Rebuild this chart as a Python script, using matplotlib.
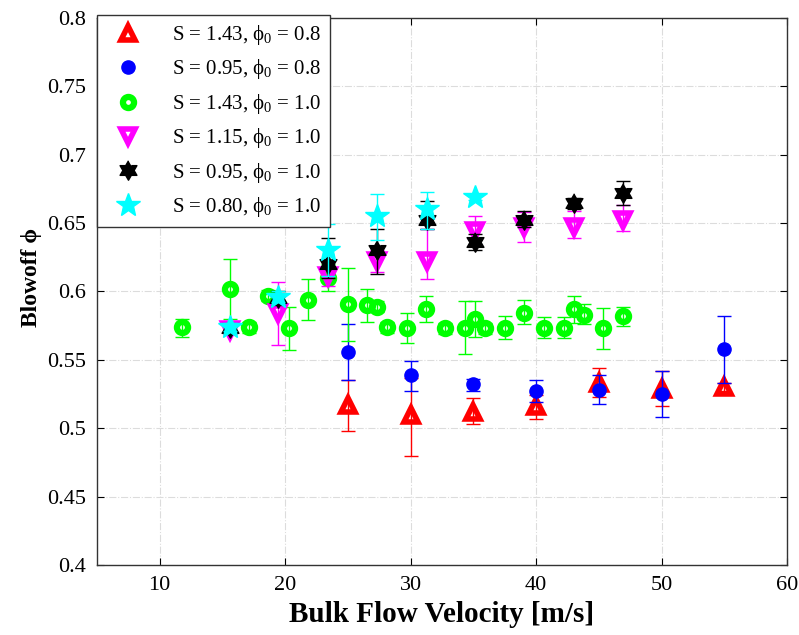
import numpy as np
import matplotlib
matplotlib.use("Agg")
import matplotlib.pyplot as plt

plt.rcParams['font.family'] = ['Liberation Serif', 'DejaVu Serif']
plt.rcParams['mathtext.fontset'] = 'custom'
plt.rcParams['mathtext.rm'] = 'Liberation Serif'
plt.rcParams['mathtext.it'] = 'Liberation Serif:italic'

# S = 1.43, phi0 = 0.8
red_x = [25, 30, 35, 40, 45, 50, 55]
red_y = [0.517, 0.510, 0.512, 0.516, 0.533, 0.529, 0.530]
red_lo = [0.498, 0.480, 0.503, 0.507, 0.523, 0.516, 0.527]
red_hi = [0.535, 0.537, 0.522, 0.524, 0.544, 0.542, 0.533]

# S = 0.95, phi0 = 0.8
blue_x = [25, 30, 35, 40, 45, 50, 55]
blue_y = [0.556, 0.539, 0.532, 0.527, 0.528, 0.525, 0.558]
blue_lo = [0.535, 0.527, 0.527, 0.519, 0.518, 0.508, 0.533]
blue_hi = [0.576, 0.549, 0.536, 0.535, 0.539, 0.542, 0.582]

# S = 1.43, phi0 = 1.0
green_x = [11.75, 15.6, 17.1, 18.65, 20.3, 21.8, 23.4, 25.0, 26.5, 27.3, 28.1,
           29.7, 31.2, 32.7, 34.3, 35.1, 35.9, 37.5, 39.0, 40.6, 42.2, 43.0,
           43.8, 45.3, 46.9]
green_y = [0.574, 0.602, 0.574, 0.597, 0.573, 0.594, 0.610, 0.591, 0.590, 0.589, 0.574,
           0.573, 0.587, 0.573, 0.573, 0.580, 0.573, 0.573, 0.584, 0.573, 0.573, 0.587,
           0.583, 0.573, 0.582]
green_lo = [0.567, 0.580, 0.570, 0.593, 0.557, 0.579, 0.600, 0.564, 0.578, 0.585, 0.570,
            0.562, 0.578, 0.569, 0.554, 0.567, 0.569, 0.565, 0.576, 0.566, 0.566, 0.577,
            0.576, 0.558, 0.575]
green_hi = [0.580, 0.624, 0.578, 0.601, 0.589, 0.609, 0.620, 0.617, 0.602, 0.593, 0.578,
            0.584, 0.597, 0.577, 0.593, 0.593, 0.577, 0.582, 0.594, 0.581, 0.581, 0.597,
            0.591, 0.588, 0.589]

# S = 1.15, phi0 = 1.0
mag_x = [15.6, 19.45, 23.4, 27.3, 31.3, 35.1, 39.0, 43.0, 46.9]
mag_y = [0.572, 0.584, 0.611, 0.622, 0.622, 0.644, 0.647, 0.647, 0.652]
mag_lo = [0.569, 0.561, 0.604, 0.614, 0.609, 0.634, 0.636, 0.639, 0.644]
mag_hi = [0.575, 0.607, 0.618, 0.630, 0.646, 0.655, 0.658, 0.659, 0.663]

# S = 0.95, phi0 = 1.0
blk_x = [15.6, 19.45, 23.4, 27.3, 31.3, 35.1, 39.0, 43.0, 46.9]
blk_y = [0.573, 0.595, 0.620, 0.630, 0.652, 0.636, 0.652, 0.665, 0.672]
blk_lo = [0.570, 0.590, 0.610, 0.613, 0.646, 0.630, 0.647, 0.660, 0.663]
blk_hi = [0.576, 0.600, 0.639, 0.646, 0.666, 0.642, 0.659, 0.668, 0.681]

# S = 0.80, phi0 = 1.0
cyan_x = [15.6, 19.45, 23.4, 27.3, 31.3, 35.1]
cyan_y = [0.574, 0.596, 0.630, 0.655, 0.660, 0.669]
cyan_lo = [0.571, 0.592, 0.611, 0.638, 0.646, 0.667]
cyan_hi = [0.577, 0.600, 0.649, 0.671, 0.673, 0.671]

labels = [r'S = 1.43, ϕ$_0$ = 0.8', r'S = 0.95, ϕ$_0$ = 0.8',
          r'S = 1.43, ϕ$_0$ = 1.0', r'S = 1.15, ϕ$_0$ = 1.0',
          r'S = 0.95, ϕ$_0$ = 1.0', r'S = 0.80, ϕ$_0$ = 1.0']

# hexagram marker
ang = np.pi / 2 + np.arange(12) * np.pi / 6
rad = np.where(np.arange(12) % 2 == 0, 1.0, 1 / np.sqrt(3))
hexagram = list(zip(rad * np.cos(ang), rad * np.sin(ang)))

series = [
    (red_x, red_y, red_lo, red_hi, '#ff0000', dict(marker='^', mfc='none', ms=10.5, mew=4)),
    (blue_x, blue_y, blue_lo, blue_hi, '#0000ff', dict(marker='o', mfc='#0000ff', ms=9.5, mew=1)),
    (green_x, green_y, green_lo, green_hi, '#00ff00', dict(marker='o', mfc='none', ms=8, mew=4.5)),
    (mag_x, mag_y, mag_lo, mag_hi, '#ff00ff', dict(marker='v', mfc='none', ms=10.5, mew=4)),
    (blk_x, blk_y, blk_lo, blk_hi, '#000000', dict(marker=hexagram, mfc='#000000', ms=14, mew=1)),
    (cyan_x, cyan_y, cyan_lo, cyan_hi, '#00ffff', dict(marker='*', mfc='#00ffff', ms=18, mew=1)),
]

fig = plt.figure(figsize=(7.99, 6.35), dpi=100)
ax = fig.add_axes([0.1214, 0.1102, 0.8636, 0.8615])

handles = []
for (x, y, lo, hi, col, st), lab in zip(series, labels):
    y = np.array(y)
    err = [y - np.array(lo), np.array(hi) - y]
    ax.errorbar(x, y, yerr=err, fmt='none', ecolor=col, capsize=5,
                elinewidth=1, capthick=1)
    h, = ax.plot(x, y, linestyle='none', color=col, mec=col, label=lab, **st)
    handles.append(h)

ax.set_xlim(5, 60)
ax.set_ylim(0.4, 0.8)
ax.set_xticks([10, 20, 30, 40, 50, 60])
ax.set_yticks(np.arange(0.4, 0.801, 0.05))
ax.set_yticklabels(['0.4', '0.45', '0.5', '0.55', '0.6', '0.65', '0.7', '0.75', '0.8'])
ax.grid(True, linestyle='-.', color='#dcdcdc', linewidth=0.8)
ax.set_axisbelow(True)
ax.tick_params(direction='in', top=True, right=True, length=5, labelsize=16, pad=8)
for s in ax.spines.values():
    s.set_color('#333333')
    s.set_linewidth(1)

ax.set_xlabel('Bulk Flow Velocity [m/s]', fontsize=21, fontweight='bold')
ax.set_ylabel('Blowoff ϕ', fontsize=17, fontweight='bold')
ax.yaxis.set_label_coords(-0.08, 0.526)

leg = ax.legend(handles, labels, loc='upper left', bbox_to_anchor=(0, 1.006),
                borderaxespad=0, fontsize=15, fancybox=False, edgecolor='#333333',
                framealpha=1, borderpad=0.4, labelspacing=0.5, handletextpad=1.0,
                handlelength=2.2)
leg.get_frame().set_linewidth(1)

fig.savefig('out.png', dpi=100)
